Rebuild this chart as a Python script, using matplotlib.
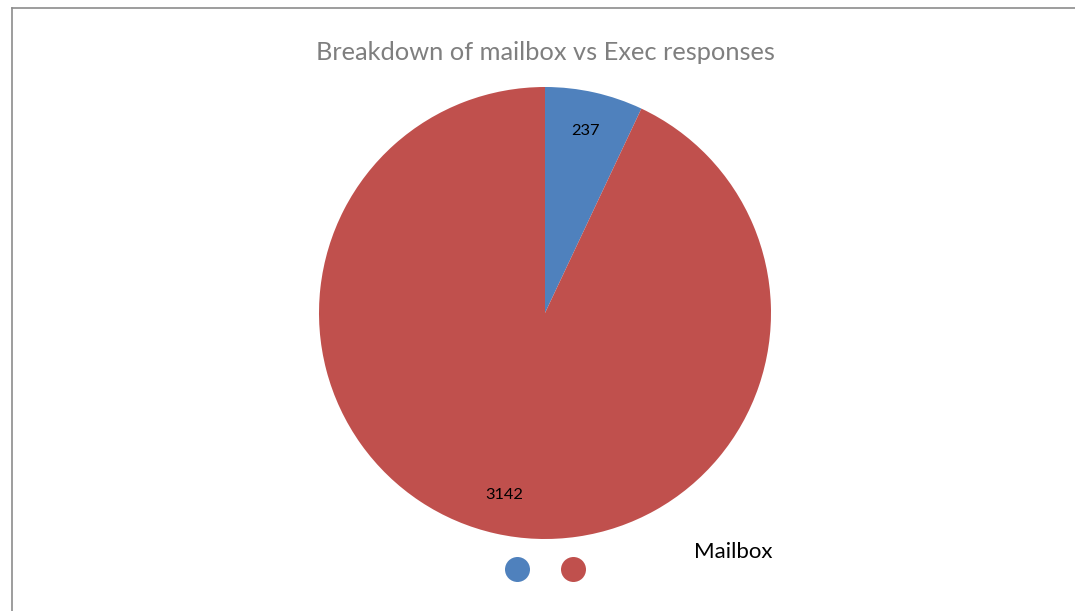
import matplotlib.pyplot as plt
from matplotlib.lines import Line2D

# data
categories = ["Mailbox", "Exec"]
responses = [237, 3142]
colors = ["#4F81BD", "#C0504D"]

plt.rcParams['font.family'] = ['Lato', 'DejaVu Sans']

W, H = 1075, 611
fig = plt.figure(figsize=(W / 100, H / 100), dpi=100)

# pie axes: centre (545, 313) px, radius 226 px
cx, cy, r = 545, 313, 226
ax = fig.add_axes([(cx - r) / W, (H - cy - r) / H, 2 * r / W, 2 * r / H])
ax.pie(
    responses,
    colors=colors,
    startangle=90,
    counterclock=False,
    autopct=lambda p: "%d" % round(p * sum(responses) / 100),
    pctdistance=0.823,
    textprops={"fontsize": 11.8, "color": "black"},
    wedgeprops={"linewidth": 0},
)
ax.set_xlim(-1, 1)
ax.set_ylim(-1, 1)
ax.set_aspect("equal")

fig.text(cx / W, 1 - 53 / H, "Breakdown of mailbox vs Exec responses",
         ha="center", va="center", fontsize=18.3, color="#7F7F7F")

# legend: circles only, with the series name alongside
handles = [Line2D([], [], marker="o", linestyle="", markersize=18,
                  markerfacecolor=c, markeredgewidth=0) for c in colors]
fig.legend(handles, ["", ""], ncol=2, loc="center",
           bbox_to_anchor=(545 / W, 1 - 570 / H), frameon=False,
           handlelength=1.0, handletextpad=0.0, columnspacing=2.35,
           borderpad=0, fontsize=12)
fig.text(694 / W, 1 - 552 / H, categories[0], ha="left", va="center",
         fontsize=16, color="black")

# chart area border (top and left visible)
fig.add_artist(Line2D([12 / W, 1], [1 - 8 / H, 1 - 8 / H], color="#8C8C8C", lw=1.2))
fig.add_artist(Line2D([12 / W, 12 / W], [0, 1 - 8 / H], color="#8C8C8C", lw=1.2))

fig.savefig("out.png", dpi=100)
